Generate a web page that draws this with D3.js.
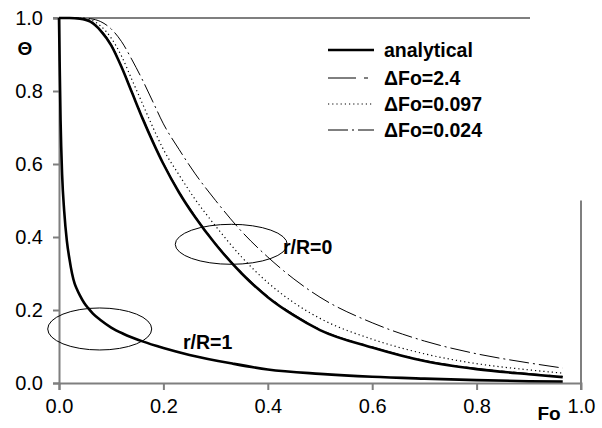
<!DOCTYPE html>
<html>
<head>
<meta charset="utf-8">
<script src="https://cdn.jsdelivr.net/npm/d3@7"></script>
<style>
  body { margin: 0; background: #fff; }
  text { font-family: "Liberation Sans", Arial, sans-serif; }
</style>
</head>
<body>
<div id="canvas"></div>
<script>
// r/R=0 (centre) curves
const foCentre = [0, 0.02, 0.04, 0.06, 0.08, 0.10, 0.12, 0.14, 0.16, 0.18, 0.20, 0.23, 0.26, 0.30, 0.35, 0.40, 0.45, 0.50, 0.60, 0.70, 0.80, 0.90, 0.965];
const centreAnalytical = [1, 1, 0.998, 0.99, 0.965, 0.925, 0.865, 0.795, 0.725, 0.66, 0.60, 0.522, 0.456, 0.38, 0.30, 0.235, 0.185, 0.145, 0.097, 0.060, 0.038, 0.024, 0.016];
const centreDFo24 = [1, 1, 0.999, 0.992, 0.968, 0.928, 0.868, 0.798, 0.728, 0.663, 0.603, 0.525, 0.459, 0.383, 0.303, 0.238, 0.188, 0.147, 0.099, 0.062, 0.040, 0.026, 0.018];
const centreDFo097 = [1, 1, 0.999, 0.995, 0.978, 0.945, 0.895, 0.83, 0.765, 0.70, 0.64, 0.57, 0.505, 0.43, 0.345, 0.275, 0.22, 0.177, 0.12, 0.08, 0.053, 0.036, 0.027];
const centreDFo024 = [1, 1, 1, 0.998, 0.99, 0.97, 0.935, 0.885, 0.83, 0.77, 0.71, 0.64, 0.575, 0.50, 0.415, 0.345, 0.285, 0.235, 0.165, 0.115, 0.08, 0.055, 0.041];

// r/R=1 (surface) curve
const foSurface = [0, 0.001, 0.003, 0.006, 0.01, 0.015, 0.02, 0.025, 0.03, 0.035, 0.04, 0.048, 0.056, 0.065, 0.08, 0.10, 0.123, 0.16, 0.20, 0.25, 0.333, 0.40, 0.50, 0.60, 0.70, 0.80, 0.90, 0.965];
const surfaceAnalytical = [1, 0.9, 0.72, 0.57, 0.47, 0.39, 0.34, 0.30, 0.272, 0.255, 0.24, 0.22, 0.205, 0.19, 0.172, 0.152, 0.135, 0.114, 0.096, 0.077, 0.053, 0.037, 0.025, 0.017, 0.012, 0.008, 0.005, 0.004];

const xTicks = [0, 0.2, 0.4, 0.6, 0.8, 1.0];
const yTicks = [0, 0.2, 0.4, 0.6, 0.8, 1.0];

const legendNames = ["analytical", "\u0394Fo=2.4", "\u0394Fo=0.097", "\u0394Fo=0.024"];

const styles = [
    { width: 2.6, dash: null },
    { width: 1, dash: "28,8,4,8" },
    { width: 1.2, dash: "1.2,3" },
    { width: 1, dash: "20,4,2,4" }
];

const W = 602, H = 428;
const svg = d3.select("#canvas").append("svg")
    .attr("width", W).attr("height", H);

const x = d3.scaleLinear().domain([0, 1]).range([59, 581]);
const y = d3.scaleLinear().domain([0, 1]).range([383, 18]);

const axisColor = "#7f7f7f";

// frame lines
svg.append("line").attr("x1", x(0) - 6).attr("x2", 530).attr("y1", y(1)).attr("y2", y(1))
    .attr("stroke", axisColor).attr("stroke-width", 2);
svg.append("line").attr("x1", x(1)).attr("x2", x(1)).attr("y1", y(0.5)).attr("y2", y(0) + 7)
    .attr("stroke", axisColor).attr("stroke-width", 2);

const xAxis = svg.append("g")
    .attr("transform", `translate(0,${y(0)})`)
    .call(d3.axisBottom(x).tickValues(xTicks).tickFormat(d3.format(".1f")).tickSizeOuter(0).tickSize(7).tickPadding(9));
const yAxis = svg.append("g")
    .attr("transform", `translate(${x(0)},0)`)
    .call(d3.axisLeft(y).tickValues(yTicks).tickFormat(d3.format(".1f")).tickSizeOuter(0).tickSize(6).tickPadding(10));

[xAxis, yAxis].forEach(g => {
    g.select(".domain").attr("stroke", axisColor).attr("stroke-width", 2);
    g.selectAll(".tick line").attr("stroke", axisColor).attr("stroke-width", 2);
    g.selectAll(".tick text").attr("fill", "#000")
        .style("font-size", "20px").style("font-family", "Liberation Sans, Arial, sans-serif");
});
// the 1.0 x tick is covered by the right frame line
xAxis.selectAll(".tick").filter(d => d === 1).select("line").remove();

const line = d3.line()
    .x(d => x(d[0]))
    .y(d => y(d[1]))
    .curve(d3.curveMonotoneX);

const centreSeries = [centreAnalytical, centreDFo24, centreDFo097, centreDFo024];

// back to front so the analytical line sits on top
[3, 2, 1, 0].forEach(i => {
    svg.append("path")
        .datum(d3.zip(foCentre, centreSeries[i]))
        .attr("fill", "none")
        .attr("stroke", "#000")
        .attr("stroke-width", styles[i].width)
        .attr("stroke-dasharray", styles[i].dash)
        .attr("d", line);
});

svg.append("path")
    .datum(d3.zip(foSurface, surfaceAnalytical))
    .attr("fill", "none")
    .attr("stroke", "#000")
    .attr("stroke-width", 2.6)
    .attr("d", line);

// ellipses
svg.append("ellipse")
    .attr("cx", x(0.330)).attr("cy", y(0.38)).attr("rx", 56).attr("ry", 20)
    .attr("fill", "none").attr("stroke", "#000").attr("stroke-width", 1);
svg.append("ellipse")
    .attr("cx", x(0.078)).attr("cy", y(0.148)).attr("rx", 52).attr("ry", 21)
    .attr("fill", "none").attr("stroke", "#000").attr("stroke-width", 1);

svg.append("text").attr("x", 283).attr("y", 254)
    .style("font-size", "19.5px").style("font-weight", "bold").text("r/R=0");
svg.append("text").attr("x", 183).attr("y", 349)
    .style("font-size", "19.5px").style("font-weight", "bold").text("r/R=1");

// axis titles
svg.append("text").attr("x", 25).attr("y", 55).attr("text-anchor", "middle")
    .style("font-size", "19px").style("font-weight", "bold").text("\u0398");
svg.append("text").attr("x", 549).attr("y", 420).attr("text-anchor", "middle")
    .style("font-size", "19px").style("font-weight", "bold").text("Fo");

// legend
const legendY = [50, 78, 104, 130];
legendNames.forEach((name, i) => {
    svg.append("line")
        .attr("x1", 328).attr("x2", 374)
        .attr("y1", legendY[i]).attr("y2", legendY[i])
        .attr("stroke", "#000")
        .attr("stroke-width", styles[i].width)
        .attr("stroke-dasharray", styles[i].dash);
    svg.append("text")
        .attr("x", 384).attr("y", legendY[i] + 7)
        .style("font-size", "19.5px").style("font-weight", "bold")
        .text(name);
});
</script>
</body>
</html>
